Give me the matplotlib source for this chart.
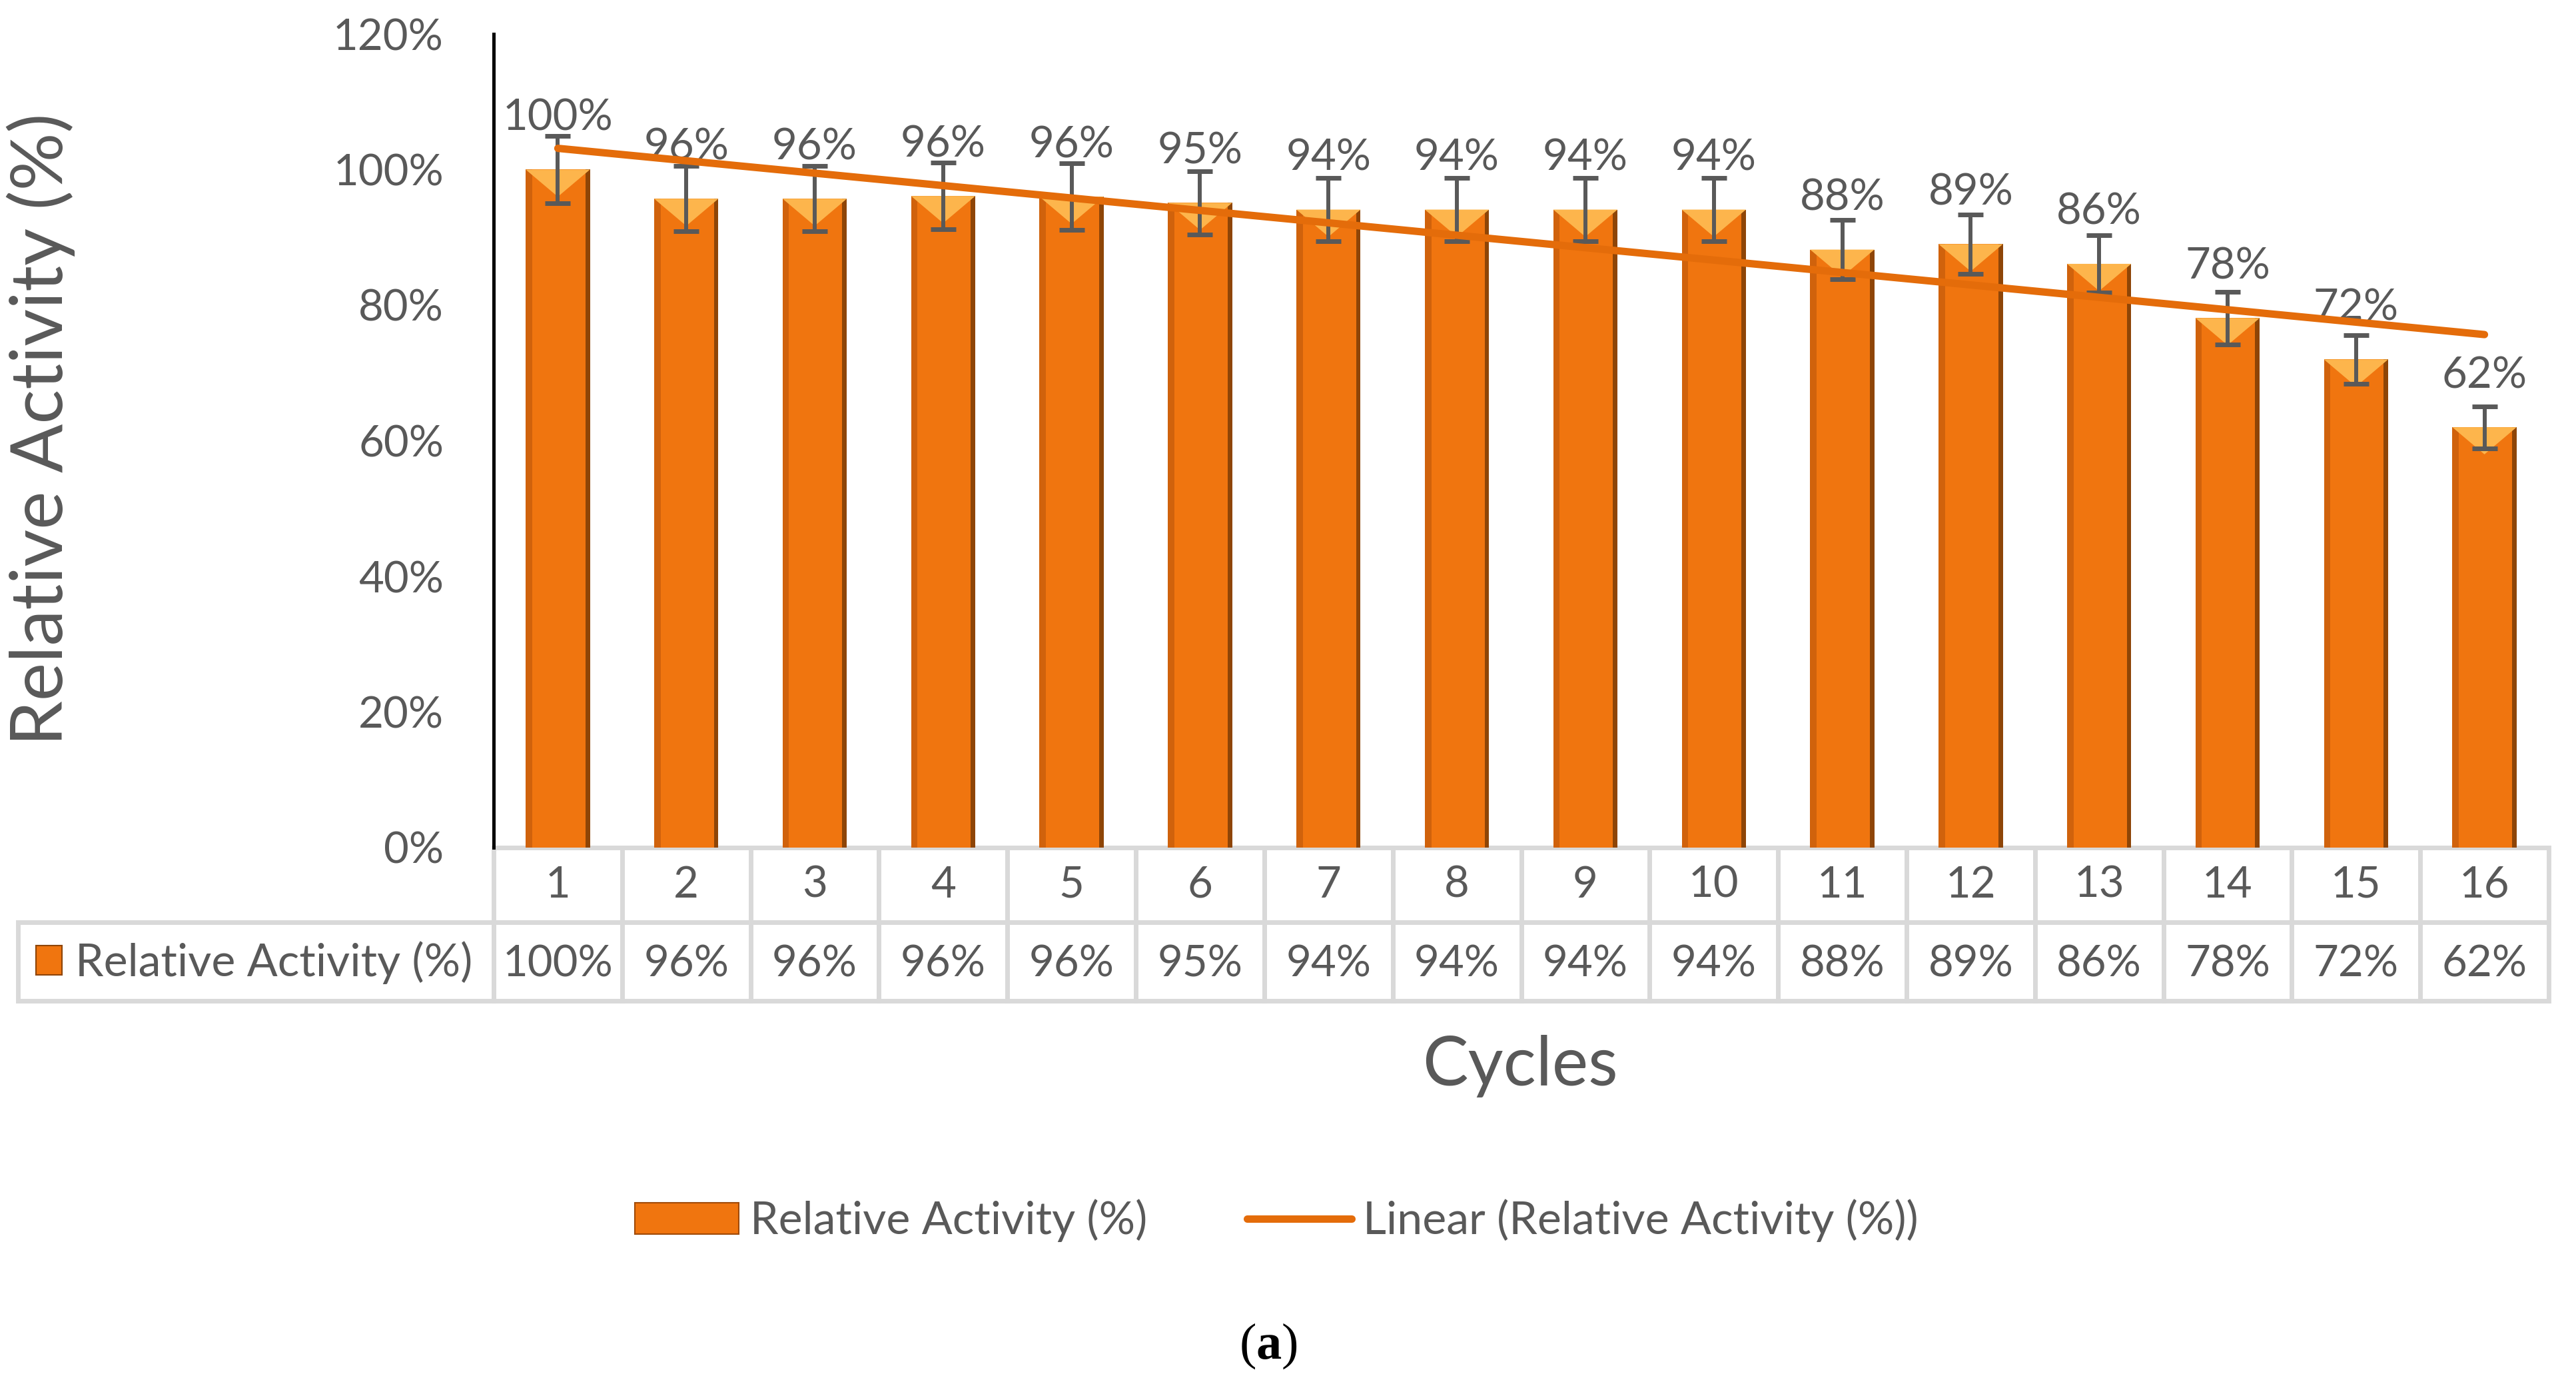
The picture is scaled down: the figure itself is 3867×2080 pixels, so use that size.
import numpy as np
import matplotlib.pyplot as plt
from matplotlib.patches import Rectangle, Polygon, Patch
from matplotlib.lines import Line2D

plt.rcParams['font.family'] = ['Lato', 'DejaVu Sans']
plt.rcParams['mathtext.fontset'] = 'custom'
plt.rcParams['mathtext.rm'] = 'Liberation Serif'
plt.rcParams['mathtext.bf'] = 'Liberation Serif:bold'

# data
cycles = np.arange(1, 17)
activity = [100, 95.7, 95.7, 96.1, 96.0, 95.1, 94.1, 94.1, 94.1, 94.1,
            88.2, 89.0, 86.1, 78.1, 72.0, 62.0]
errors = [5.0, 4.8, 4.8, 4.9, 4.9, 4.7, 4.7, 4.7, 4.7, 4.7,
          4.4, 4.4, 4.2, 3.9, 3.6, 3.1]
yticks = [0, 20, 40, 60, 80, 100, 120]
series_name = 'Relative Activity (%)'

grey = '#595959'
orange = '#F0750F'
fs = 47      # numbers
fs_txt = 49  # words

W, H = 3867, 2080
fig = plt.figure(figsize=(W / 100, H / 100), dpi=100)
# plot area in pixels: left 741, right 3826, top 51, bottom 1272
ax = fig.add_axes([741 / W, 1 - 1272 / H, 3085 / W, 1221 / H])

# bars with a bit of Excel-ish shading
ax.bar(cycles, activity, width=0.5, color=orange, zorder=2)
ax.bar(cycles - 0.25, activity, width=0.05, align='edge', color='#D0620C', zorder=2)
ax.bar(cycles + 0.25, activity, width=-0.035, align='edge', color='#8E4507', zorder=2)
for c, v in zip(cycles, activity):
    ax.add_patch(Polygon([(c - 0.25, v), (c + 0.25, v), (c, v - 4)],
                         closed=True, color='#FDB54C', zorder=2.5, lw=0))

ax.errorbar(cycles, activity, yerr=errors, fmt='none', ecolor=grey,
            elinewidth=4.3, capsize=14, capthick=5, zorder=4)

# linear trendline
coef = np.polyfit(cycles, activity, 1)
ax.plot(cycles, np.polyval(coef, cycles), color='#E46C0A', lw=8,
        solid_capstyle='round', zorder=6)

# value labels sit a fixed distance above the bar top
for c, v in zip(cycles, activity):
    ax.annotate(f'{v:.0f}%', (c, v), xytext=(0, 42.5), textcoords='offset points',
                ha='center', va='baseline', fontsize=fs, color=grey, zorder=3)

ax.set_xlim(0.5, 16.5)
ax.set_ylim(0, 120)
ax.set_yticks(yticks)
ax.set_yticklabels([f'{t}%' for t in yticks])
ax.set_xticks([])
ax.tick_params(axis='y', length=0, pad=54, labelsize=fs, labelcolor=grey)
for s in ['top', 'right', 'bottom']:
    ax.spines[s].set_visible(False)
ax.spines['left'].set_color('black')
ax.spines['left'].set_linewidth(3.6)

ax.set_ylabel('Relative Activity (%)', fontsize=78, color=grey)
ax.yaxis.set_label_coords(-0.2035, 0.514)

# data table under the plot
tr = ax.get_xaxis_transform()
edge = '#D9D9D9'
r1_top, r1_bot, r2_bot = 0.0, -0.0917, -0.1884
for c, v in zip(cycles, activity):
    ax.add_patch(Rectangle((c - 0.5, r1_bot), 1, r1_top - r1_bot, transform=tr,
                           fill=False, ec=edge, lw=5, clip_on=False, zorder=1))
    ax.add_patch(Rectangle((c - 0.5, r2_bot), 1, r1_bot - r2_bot, transform=tr,
                           fill=False, ec=edge, lw=5, clip_on=False, zorder=1))
    ax.text(c, -0.0614, str(c), transform=tr, ha='center', va='baseline',
            fontsize=fs, color=grey)
    ax.text(c, -0.1581, f'{v:.0f}%', transform=tr, ha='center', va='baseline',
            fontsize=fs, color=grey)
ax.add_patch(Rectangle((-0.2314, r2_bot), 0.2314, r1_bot - r2_bot, transform=ax.transAxes,
                       fill=False, ec=edge, lw=5, clip_on=False, zorder=1))
ax.add_patch(Rectangle((-0.2227, -0.1564), 0.0125, 0.036, transform=ax.transAxes,
                       fc=orange, ec='#8E4507', lw=1.5, clip_on=False))
ax.text(-0.2035, -0.1581, series_name, transform=ax.transAxes, ha='left',
        va='baseline', fontsize=fs_txt, color=grey)

fig.text(2282 / W, 1 - 1600 / H, 'Cycles', ha='center', va='center',
         fontsize=74, color=grey)

handles = [Patch(fc=orange, ec='#A04A08', lw=1.5),
           Line2D([0], [0], color='#E46C0A', lw=8, solid_capstyle='round')]
fig.legend(handles, [series_name, 'Linear (Relative Activity (%))'], loc='center',
           bbox_to_anchor=(1916 / W, 1 - 1832 / H), ncol=2, frameon=False,
           fontsize=fs_txt, labelcolor=grey, handlelength=2.3, handletextpad=0.25,
           columnspacing=2.2)

fig.text(1904 / W, 1 - 2020 / H, r'$\mathrm{(}\mathbf{a}\mathrm{)}$', ha='center',
         va='center', fontsize=55, color='black')

fig.savefig('out.png', dpi=100)
